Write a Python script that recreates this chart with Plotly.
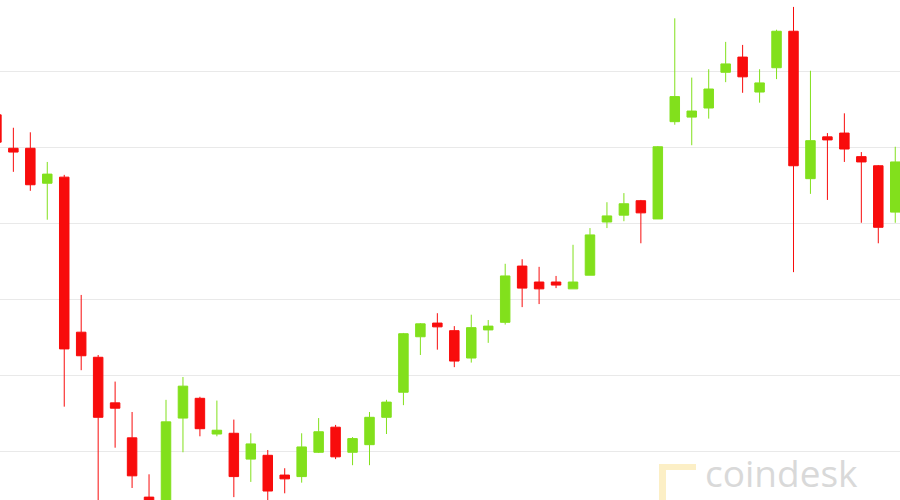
import plotly.graph_objects as go

# hourly candles (index of period), prices in USD
periods = list(range(54))
opens = [9243, 9199, 9199, 9153, 9161, 8957, 8924, 8864, 8818, 8740,
         8710, 8844, 8870, 8823, 8824, 8790, 8795, 8769, 8767, 8799,
         8832, 8799, 8809, 8845, 8878, 8951, 8969, 8959, 8923, 8960,
         8970, 9044, 9023, 9023, 9014, 9032, 9102, 9111, 9130, 9106,
         9234, 9240, 9252, 9299, 9319, 9273, 9305, 9353, 9159, 9214,
         9219, 9188, 9176, 9115]
highs = [9249, 9226, 9220, 9181, 9164, 9006, 8927, 8892, 8852, 8770,
         8868, 8898, 8872, 8867, 8842, 8824, 8802, 8778, 8824, 8844,
         8835, 8819, 8852, 8868, 8956, 8969, 8982, 8965, 8980, 8973,
         9047, 9053, 9043, 9031, 9072, 9094, 9128, 9140, 9131, 9202,
         9370, 9292, 9303, 9339, 9335, 9303, 9355, 9385, 9301, 9219,
         9245, 9194, 9177, 9201]
lows = [9202, 9168, 9143, 9105, 8859, 8907, 8710, 8805, 8752, 8717,
        8703, 8799, 8820, 8820, 8740, 8760, 8736, 8745, 8759, 8798,
        8790, 8782, 8782, 8823, 8861, 8927, 8934, 8911, 8917, 8943,
        8967, 8990, 8994, 9015, 9014, 9032, 9094, 9103, 9074, 9106,
        9230, 9203, 9238, 9286, 9272, 9259, 9290, 9036, 9139, 9131,
        9181, 9101, 9074, 9101]
closes = [9207, 9194, 9151, 9165, 8935, 8926, 8845, 8857, 8768, 8728,
          8839, 8886, 8830, 8828, 8767, 8810, 8748, 8764, 8806, 8826,
          8793, 8817, 8845, 8865, 8955, 8968, 8964, 8919, 8963, 8965,
          9031, 9015, 9014, 9019, 9023, 9085, 9110, 9126, 9114, 9201,
          9267, 9248, 9277, 9310, 9293, 9285, 9353, 9176, 9209, 9210,
          9198, 9181, 9095, 9181]

UP = "#82e01c"
DOWN = "#f80c0c"

fig = go.Figure(go.Candlestick(
    x=periods, open=opens, high=highs, low=lows, close=closes,
    increasing=dict(line=dict(color=UP, width=1), fillcolor=UP),
    decreasing=dict(line=dict(color=DOWN, width=1), fillcolor=DOWN),
    whiskerwidth=0, showlegend=False, hoverinfo="skip",
))

fig.update_layout(
    width=900, height=500,
    margin=dict(l=0, r=0, t=0, b=0),
    paper_bgcolor="white", plot_bgcolor="white",
    boxgap=0.2,
    xaxis=dict(range=[0.212, 53.28], showgrid=False, zeroline=False,
               showticklabels=False, showline=False, ticks="",
               rangeslider=dict(visible=False)),
    yaxis=dict(range=[8736.2, 9394.1], dtick=100, tick0=0,
               showgrid=True, gridcolor="#e9e9e9", gridwidth=1,
               zeroline=False, showticklabels=False, showline=False, ticks=""),
    annotations=[dict(
        text="coindesk", xref="paper", yref="paper",
        x=703 / 900, y=0, xanchor="left", yanchor="bottom",
        showarrow=False,
        font=dict(family="Open Sans", size=37, color="#d9d9d9"),
    )],
    shapes=[
        dict(type="path", xref="paper", yref="paper",
             path="M {x0},{y0} L {x1},{y0} L {x1},{y2} L {x3},{y2} L {x3},{y3} L {x0},{y3} Z".format(
                 x0=659 / 900, x1=696 / 900, x3=666 / 900,
                 y0=1 - 464 / 500, y2=1 - 470 / 500, y3=1 - 500 / 500),
             fillcolor="#fcefc6", line=dict(width=0), layer="below"),
    ],
)

fig.write_html(
    "out.html",
    config={"displayModeBar": False},
    post_script="document.body.style.margin='0';document.body.style.overflow='hidden';",
)
